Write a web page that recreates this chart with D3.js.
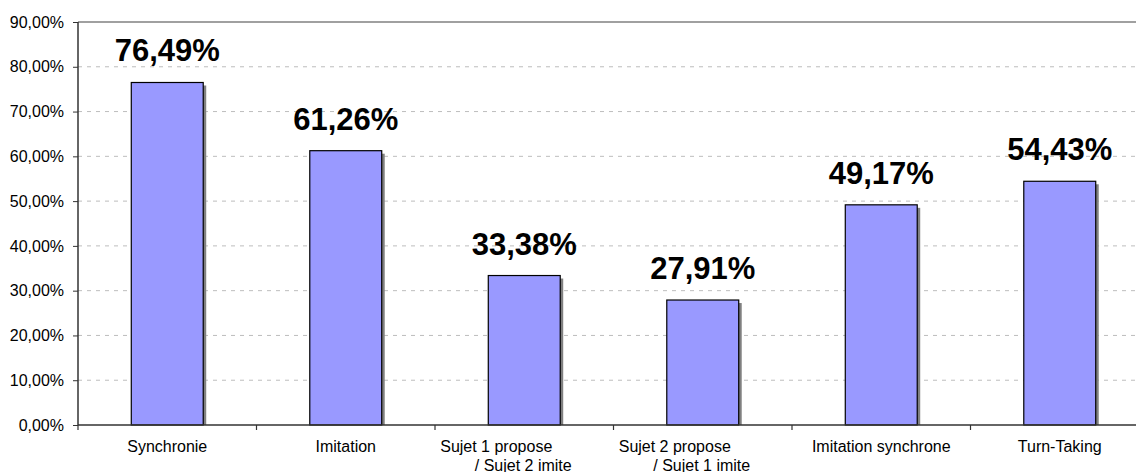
<!DOCTYPE html>
<html><head><meta charset="utf-8">
<script src="https://cdn.jsdelivr.net/npm/d3@7"></script>
<style>body{margin:0;background:#fff;}svg{display:block;font-family:Arial,"Liberation Sans",sans-serif;}</style>
</head><body>
<svg id="c" width="1136" height="472"></svg>
<script>
const categories = ["Synchronie","Imitation","Sujet 1 propose|/ Sujet 2 imite","Sujet 2 propose|/ Sujet 1 imite","Imitation synchrone","Turn-Taking"];
const values = [76.49, 61.26, 33.38, 27.91, 49.17, 54.43];
const valueLabels = ["76,49%","61,26%","33,38%","27,91%","49,17%","54,43%"];
const yTicks = [0,10,20,30,40,50,60,70,80,90];
const yTickLabels = ["0,00%","10,00%","20,00%","30,00%","40,00%","50,00%","60,00%","70,00%","80,00%","90,00%"];

(function(){
const svg = d3.select("#c");
const pL = 78, pR = 1149, pT = 22, pB = 425;
const x = d3.scaleBand().domain(categories).range([pL, pR]).paddingInner(0.597).paddingOuter(0.2985);
const y = d3.scaleLinear().domain([0, 90]).range([pB, pT]);

// gridlines
svg.append("g").selectAll("line").data(yTicks.filter(t => t > 0 && t < 90)).join("line")
  .attr("x1", pL).attr("x2", pR).attr("y1", d => y(d)).attr("y2", d => y(d))
  .attr("stroke", "#bdbdbd").attr("stroke-dasharray", "4,5").attr("stroke-width", 1);
// top border
svg.append("line").attr("x1", pL).attr("x2", pR).attr("y1", y(90)).attr("y2", y(90))
  .attr("stroke", "#808080").attr("stroke-width", 1.5);

// shadows
svg.append("g").selectAll("rect").data(categories).join("rect")
  .attr("x", d => x(d) + 3).attr("y", (d, i) => y(values[i]) + 3)
  .attr("width", x.bandwidth()).attr("height", (d, i) => pB - y(values[i]) - 3)
  .attr("fill", "#808080");
// bars
svg.append("g").selectAll("rect").data(categories).join("rect")
  .attr("x", d => x(d)).attr("y", (d, i) => y(values[i]))
  .attr("width", x.bandwidth()).attr("height", (d, i) => pB - y(values[i]))
  .attr("fill", "#9999ff").attr("stroke", "#000").attr("stroke-width", 1.2);

// value labels
svg.append("g").selectAll("text").data(categories).join("text")
  .attr("x", d => x(d) + x.bandwidth() / 2).attr("y", (d, i) => y(values[i]) - 21)
  .attr("text-anchor", "middle").attr("font-size", 31).attr("font-weight", "bold").attr("fill", "#000")
  .text((d, i) => valueLabels[i]);

// y axis
const yAxis = d3.axisLeft(y).tickValues(yTicks).tickFormat((d, i) => yTickLabels[i]).tickSize(5).tickPadding(9);
const gy = svg.append("g").attr("transform", `translate(${pL},0)`).call(yAxis);
gy.select(".domain").attr("stroke", "#333").attr("stroke-width", 1.5).attr("d", `M0,${pT}V${pB}`);
gy.selectAll(".tick line").attr("stroke", "#333");
gy.selectAll(".tick text").attr("font-size", 16).attr("font-family", "Arial, 'Liberation Sans', sans-serif").attr("fill", "#000");

// x axis line and ticks at band boundaries
svg.append("line").attr("x1", pL).attr("x2", pR).attr("y1", pB).attr("y2", pB)
  .attr("stroke", "#333").attr("stroke-width", 1.5);
const bounds = categories.map(d => x(d) - (x.step() - x.bandwidth()) / 2);
svg.append("g").selectAll("line").data(bounds).join("line")
  .attr("x1", d => d).attr("x2", d => d).attr("y1", pB).attr("y2", pB + 5)
  .attr("stroke", "#333").attr("stroke-width", 1.2);

// category labels
const cg = svg.append("g").attr("font-size", 16).attr("fill", "#000");
categories.forEach(c => {
  const cx = x(c) + x.bandwidth() / 2;
  const parts = c.split("|");
  if (parts.length === 1) {
    cg.append("text").attr("x", cx).attr("y", 452).attr("text-anchor", "middle").text(parts[0]);
  } else {
    cg.append("text").attr("x", cx - 28).attr("y", 452).attr("text-anchor", "middle").text(parts[0]);
    cg.append("text").attr("x", cx - 1).attr("y", 471).attr("text-anchor", "middle").text(parts[1]);
  }
});
})();
</script>
</body></html>
